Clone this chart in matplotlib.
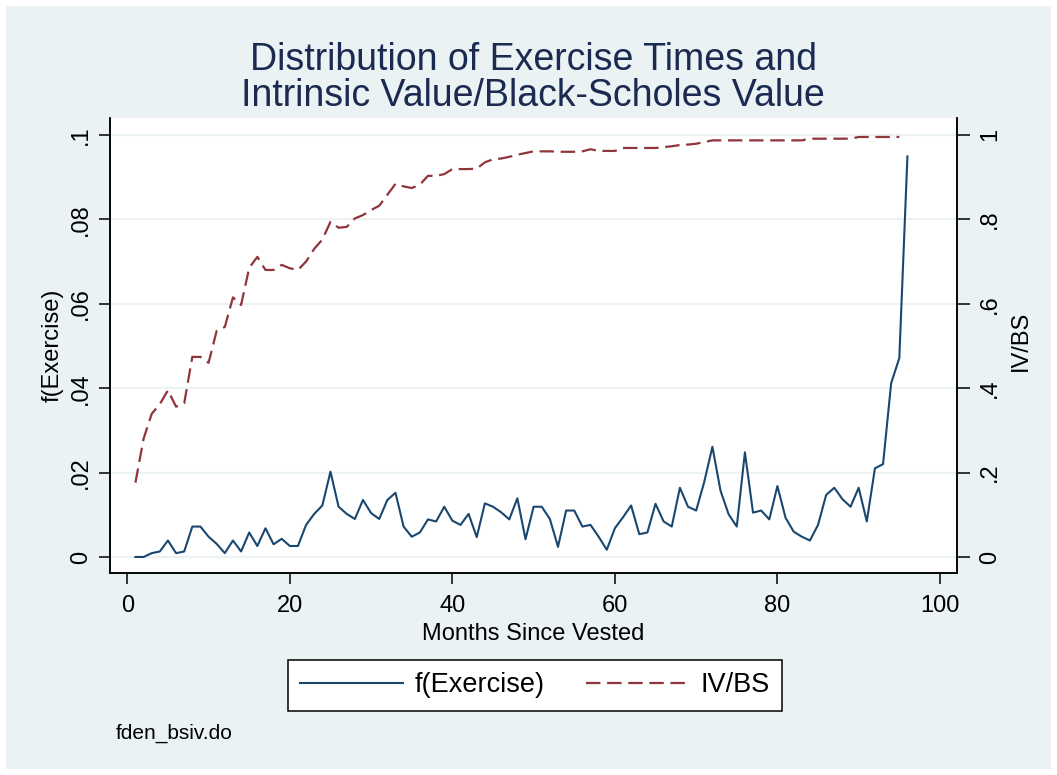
import numpy as np
import matplotlib
matplotlib.use("Agg")
import matplotlib.pyplot as plt
from matplotlib.patches import Rectangle

plt.rcParams['font.family'] = ['Liberation Sans', 'DejaVu Sans']

# months since vesting
months = np.arange(1, 97)

# density of exercise (left axis)
f_exercise = [
    0.0, 0.0, 0.0009, 0.0013, 0.0039, 0.0009, 0.0013, 0.0072, 0.0072, 0.0048,
    0.0031, 0.0009, 0.0039, 0.0013, 0.0058, 0.0026, 0.0068, 0.0030, 0.0043, 0.0026,
    0.0026, 0.0076, 0.0102, 0.0122, 0.0202, 0.0119, 0.0102, 0.0090, 0.0135, 0.0104,
    0.0090, 0.0135, 0.0152, 0.0072, 0.0048, 0.0058, 0.0089, 0.0084, 0.0119, 0.0086,
    0.0076, 0.0102, 0.0047, 0.0127, 0.0119, 0.0106, 0.0089, 0.0139, 0.0042, 0.0119,
    0.0119, 0.0090, 0.0024, 0.0110, 0.0110, 0.0072, 0.0076, 0.0048, 0.0017, 0.0068,
    0.0094, 0.0122, 0.0054, 0.0058, 0.0126, 0.0084, 0.0072, 0.0164, 0.0119, 0.0110,
    0.0178, 0.0261, 0.0157, 0.0101, 0.0072, 0.0248, 0.0105, 0.0110, 0.0089, 0.0168,
    0.0093, 0.0060, 0.0048, 0.0039, 0.0076, 0.0147, 0.0164, 0.0137, 0.0119, 0.0164,
    0.0084, 0.0210, 0.0220, 0.0412, 0.0471, 0.0949,
]

# intrinsic value / black-scholes value (right axis), months 1..95
iv_bs = [
    0.176, 0.280, 0.339, 0.362, 0.395, 0.356, 0.364, 0.474, 0.474, 0.460,
    0.536, 0.545, 0.615, 0.597, 0.685, 0.711, 0.680, 0.680, 0.692, 0.684,
    0.680, 0.700, 0.730, 0.752, 0.794, 0.780, 0.782, 0.802, 0.810, 0.822,
    0.832, 0.858, 0.884, 0.878, 0.874, 0.882, 0.903, 0.903, 0.907, 0.919,
    0.919, 0.919, 0.920, 0.935, 0.942, 0.944, 0.948, 0.953, 0.957, 0.961,
    0.961, 0.961, 0.960, 0.960, 0.960, 0.961, 0.966, 0.962, 0.962, 0.962,
    0.969, 0.969, 0.969, 0.969, 0.969, 0.971, 0.973, 0.976, 0.977, 0.979,
    0.983, 0.987, 0.987, 0.987, 0.987, 0.987, 0.987, 0.987, 0.987, 0.987,
    0.987, 0.987, 0.987, 0.991, 0.991, 0.991, 0.991, 0.991, 0.991, 0.995,
    0.995, 0.995, 0.995, 0.995, 0.995,
]

left_ticks = [0, 0.02, 0.04, 0.06, 0.08, 0.1]
left_labels = ['0', '.02', '.04', '.06', '.08', '.1']
right_ticks = [0, 0.2, 0.4, 0.6, 0.8, 1.0]
right_labels = ['0', '.2', '.4', '.6', '.8', '1']
x_ticks = [0, 20, 40, 60, 80, 100]

bg = '#eaf2f3'
navy = '#1a476f'
maroon = '#90353b'
title_col = '#1a2a50'

W, H = 1057, 775
fig = plt.figure(figsize=(W / 100, H / 100), dpi=100, facecolor='white')
fig.patches.append(Rectangle((6 / W, 6 / H), (W - 12) / W, (H - 12) / H,
                             transform=fig.transFigure, facecolor=bg,
                             edgecolor='none', zorder=-10))

ax = fig.add_axes([110 / W, 1 - 573 / H, 847 / W, 455 / H])
ax.set_facecolor('white')
ax2 = ax.twinx()

l1, = ax.plot(months, f_exercise, color=navy, lw=1.5, label='f(Exercise)')
l2, = ax2.plot(months[:len(iv_bs)], iv_bs, color=maroon, lw=1.6,
               dashes=(6.5, 3.0), label='IV/BS')

ax.set_xlim(-2.13, 102.1)
ax.set_ylim(-0.0038, 0.104)
ax2.set_ylim(-0.038, 1.04)

ax.set_xticks(x_ticks)
ax.set_yticks(left_ticks)
ax.set_yticklabels(left_labels, rotation=90, va='center')
ax2.set_yticks(right_ticks)
ax2.set_yticklabels(right_labels, rotation=90, va='center')

for a in (ax, ax2):
    a.spines['top'].set_visible(False)
    for s in ('left', 'right', 'bottom'):
        a.spines[s].set_linewidth(1.1)
        a.spines[s].set_color('black')
ax.tick_params(axis='y', direction='out', length=8, width=1.1,
               labelsize=17, pad=5)
ax.tick_params(axis='x', direction='out', length=8, width=1.1,
               labelsize=17, pad=8)
ax2.tick_params(axis='y', direction='out', length=9, width=1.1,
                labelsize=17, pad=7)

ax.grid(axis='y', color=bg, lw=1.5)
ax.set_axisbelow(True)

ax.set_xlabel('Months Since Vested', fontsize=17, labelpad=4)
ax.set_ylabel('f(Exercise)', fontsize=17)
ax.yaxis.set_label_coords(-0.055, 0.5)
ax2.set_ylabel('IV/BS', fontsize=17, rotation=90)
ax2.yaxis.set_label_coords(1.062, 0.51)

fig.text(533 / W, 1 - 78 / H,
         'Distribution of Exercise Times and\nIntrinsic Value/Black-Scholes Value',
         ha='center', va='center', fontsize=27, color=title_col,
         linespacing=1.0)

leg = fig.legend([l1, l2], ['f(Exercise)', 'IV/BS'], loc='center',
                 bbox_to_anchor=(535 / W, 1 - 685.5 / H), ncol=2,
                 fontsize=19.5, frameon=True, fancybox=False,
                 edgecolor='black', framealpha=1, handlelength=3.8,
                 handletextpad=0.45, columnspacing=1.5, borderpad=0.45,
                 borderaxespad=0)
leg.get_frame().set_linewidth(1.1)

fig.text(116 / W, 1 - 733 / H, 'fden_bsiv.do', ha='left', va='center',
         fontsize=15)

fig.savefig('out.png', dpi=100, facecolor=fig.get_facecolor())
